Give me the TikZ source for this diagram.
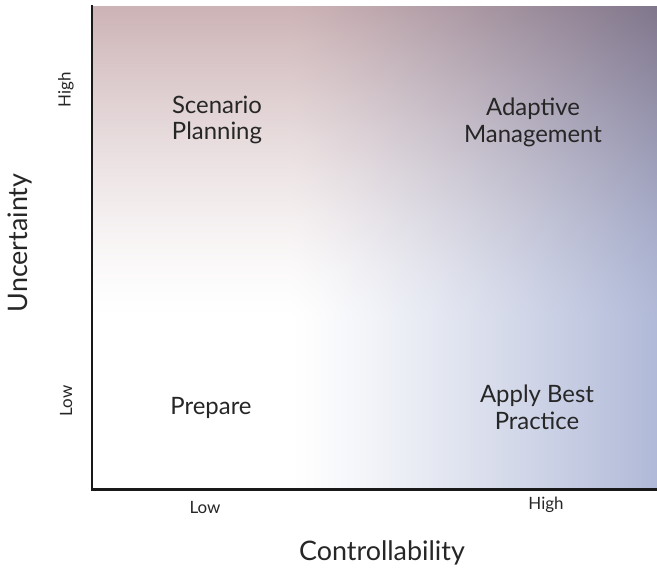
\documentclass[tikz,border=0pt]{standalone}
\usepackage{fontspec}
\setmainfont{Lato}
\definecolor{txt}{RGB}{38,38,38}
\pgfdeclarefunctionalshading{quadfill}{\pgfpoint{0bp}{0bp}}{\pgfpoint{565bp}{484bp}}{}{
 484 div 0.35 sub 0.65 div
 dup 0 lt {pop 0} if dup 1 gt {pop 1} if
 1.4 exp
 exch
 565 div 0.35 sub 0.65 div
 dup 0 lt {pop 0} if dup 1 gt {pop 1} if
 1.2 exp
 2 copy mul 0.09 mul 1 exch sub
 2 index 0.2 mul 1 exch sub
 2 index 0.31 mul 1 exch sub mul
 1 index mul
 3 index 0.3 mul 1 exch sub
 3 index 0.275 mul 1 exch sub mul
 2 index mul
 4 index 0.29 mul 1 exch sub
 4 index 0.155 mul 1 exch sub mul
 3 index mul
 6 3 roll pop pop pop
}
\begin{document}
\begin{tikzpicture}[x=1bp,y=-1bp,
  lbl/.style={text=txt, inner sep=0, align=center, font=\fontsize{24}{27}\selectfont},
  tick/.style={text=txt, inner sep=0, font=\fontsize{17}{20}\selectfont},
  title/.style={text=txt, inner sep=0, font=\fontsize{27}{31}\selectfont},
  axis/.style={line width=2.4bp, draw=black!90}]
\useasboundingbox[fill=white] (0,0) rectangle (657,568);
\node[inner sep=0, anchor=north west] (bg) at (92,5) {\pgfuseshading{quadfill}};
\draw[axis] (bg.north west) -- (bg.south west) -- (bg.south east);
\node[lbl] (sp) at (217,120) {Scenario\\Planning};
\node[lbl] (am) at (533,122) {Adaptive\\Management};
\node[lbl] (abp) at (537,407) {Apply Best\\Practice};
\node[lbl] (pr) at (211,408) {Prepare};
\node[tick] (xl) at (205,507) {Low};
\node[tick] (xh) at (546,505) {High};
\node[tick, rotate=90] (yh) at (66,90) {High};
\node[tick, rotate=90] (yl) at (66,401) {Low};
\node[title] (xt) at (382,553) {Controllability};
\node[title, rotate=90] (yt) at (20,243) {Uncertainty};
\end{tikzpicture}
\end{document}
